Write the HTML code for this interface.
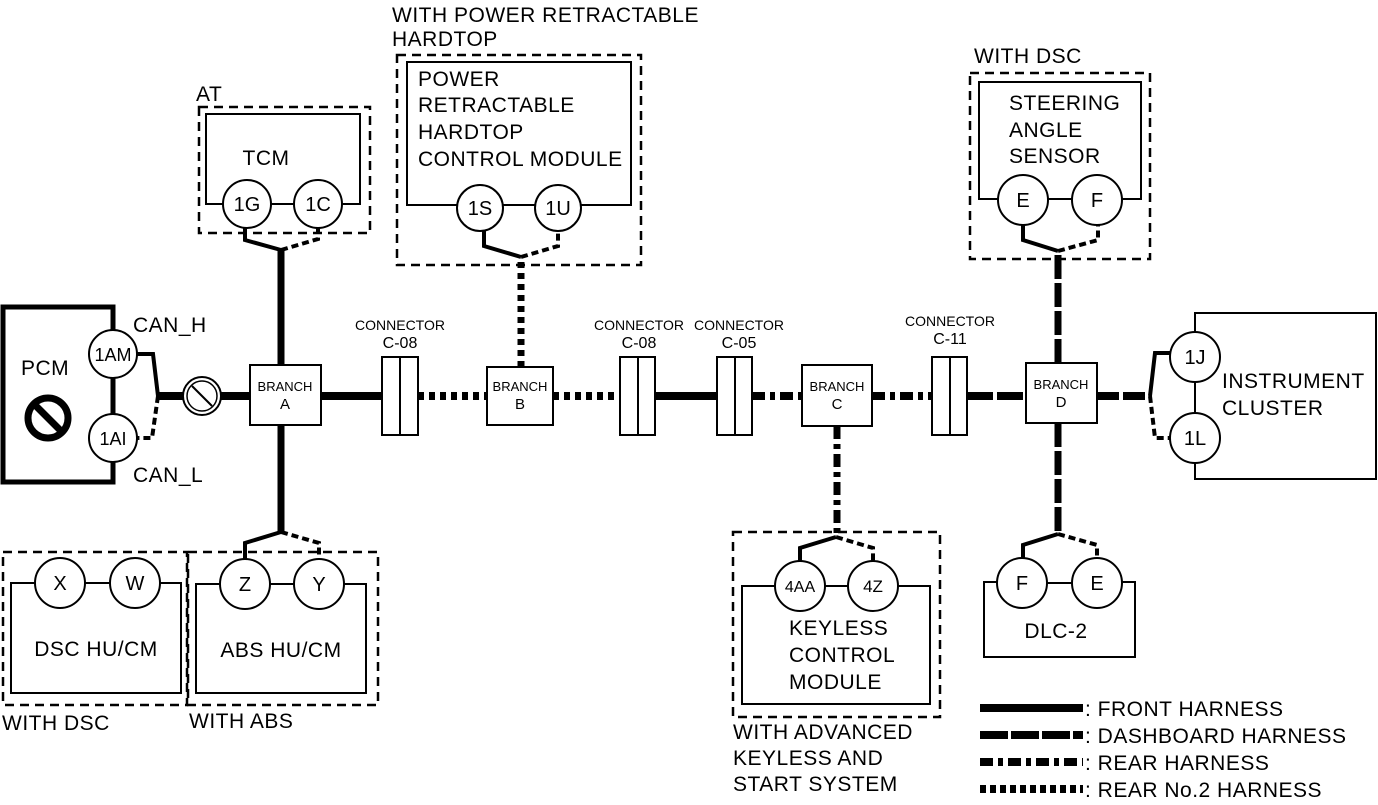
<!DOCTYPE html>
<html><head><meta charset="utf-8"><style>
html,body{margin:0;padding:0;background:#fff}
svg{display:block}
text{font-family:"Liberation Sans",Arial,sans-serif;fill:#000}
</style></head><body>
<svg width="1378" height="805" viewBox="0 0 1378 805" xmlns="http://www.w3.org/2000/svg">
<g fill="none" stroke="#000">
<path d="M113,331 V307 H3 V482 H113 V462" stroke-width="5"/>
<line x1="113" y1="378" x2="113" y2="414" stroke-width="5"/>
<circle cx="113" cy="354" r="24" fill="#fff" stroke-width="2"/>
<circle cx="113" cy="438" r="24" fill="#fff" stroke-width="2"/>
<circle cx="48" cy="418" r="20" stroke-width="7"/>
<line x1="34" y1="404" x2="62" y2="432" stroke-width="7"/>
<path d="M137,354 H153 L158,396" stroke-width="4"/>
<path d="M158,396 L152,438 H137" stroke-width="4" stroke-dasharray="7,4"/>
<line x1="158" y1="396" x2="250" y2="396" stroke-width="8"/>
<circle cx="202" cy="396" r="19" fill="#fff" stroke-width="2"/>
<circle cx="202" cy="396" r="15" fill="#fff" stroke-width="1.5"/>
<line x1="192" y1="386" x2="212" y2="406" stroke-width="2"/>
<line x1="281" y1="250" x2="281" y2="532" stroke-width="7"/>
<line x1="321" y1="396" x2="382" y2="396" stroke-width="8"/>
<line x1="418" y1="396" x2="487" y2="396" stroke-width="8" stroke-dasharray="6,5"/>
<line x1="553" y1="396" x2="620" y2="396" stroke-width="8" stroke-dasharray="6,5"/>
<line x1="655" y1="396" x2="717" y2="396" stroke-width="8"/>
<line x1="752" y1="396" x2="802" y2="396" stroke-width="8" stroke-dasharray="13,5,5,5"/>
<line x1="872" y1="396" x2="932" y2="396" stroke-width="8" stroke-dasharray="13,5,5,5"/>
<line x1="967" y1="396" x2="1026" y2="396" stroke-width="8" stroke-dasharray="26,4"/>
<line x1="1097" y1="396" x2="1150" y2="396" stroke-width="8" stroke-dasharray="22,4"/>
<path d="M1150,396 L1155,353 H1171" stroke-width="4"/>
<path d="M1150,396 L1155,438 H1171" stroke-width="4" stroke-dasharray="7,4"/>
<line x1="521" y1="367" x2="521" y2="257" stroke-width="7" stroke-dasharray="6,5"/>
<line x1="837" y1="426" x2="837" y2="535" stroke-width="7" stroke-dasharray="13,5,5,5"/>
<line x1="1058" y1="363" x2="1058" y2="252" stroke-width="7" stroke-dasharray="24,4"/>
<line x1="1058" y1="423" x2="1058" y2="533" stroke-width="7" stroke-dasharray="24,4"/>
<rect x="250" y="365" width="71" height="60" fill="#fff" stroke-width="2"/>
<rect x="487" y="367" width="66" height="58" fill="#fff" stroke-width="2"/>
<rect x="802" y="365" width="70" height="61" fill="#fff" stroke-width="2"/>
<rect x="1026" y="363" width="71" height="60" fill="#fff" stroke-width="2"/>
<rect x="382" y="357" width="36" height="78" fill="#fff" stroke-width="2"/><line x1="400" y1="357" x2="400" y2="435" stroke-width="2"/>
<rect x="620" y="357" width="35" height="78" fill="#fff" stroke-width="2"/><line x1="638" y1="357" x2="638" y2="435" stroke-width="2"/>
<rect x="717" y="357" width="35" height="78" fill="#fff" stroke-width="2"/><line x1="735" y1="357" x2="735" y2="435" stroke-width="2"/>
<rect x="932" y="357" width="35" height="78" fill="#fff" stroke-width="2"/><line x1="950" y1="357" x2="950" y2="435" stroke-width="2"/>
<rect x="199" y="107" width="171" height="126" stroke-width="2.5" stroke-dasharray="9,6"/>
<path d="M223,204 H206 V114 H360 V204 H342" stroke-width="2"/>
<line x1="271" y1="204" x2="294" y2="204" stroke-width="2"/>
<circle cx="247" cy="204" r="24" fill="#fff" stroke-width="2"/>
<circle cx="318" cy="204" r="24" fill="#fff" stroke-width="2"/>
<path d="M245,228 V240 L281,250" stroke-width="4"/>
<path d="M281,250 L318,239 V228" stroke-width="4" stroke-dasharray="7,4"/>
<rect x="397" y="55" width="244" height="210" stroke-width="2.5" stroke-dasharray="9,6"/>
<path d="M457,205 H407 V62 H631 V205 H581" stroke-width="2"/>
<line x1="503" y1="205" x2="535" y2="205" stroke-width="2"/>
<circle cx="480" cy="208" r="23" fill="#fff" stroke-width="2"/>
<circle cx="558" cy="208" r="23" fill="#fff" stroke-width="2"/>
<path d="M484,231 V246 L521,257" stroke-width="4"/>
<path d="M521,257 L558,246 V231" stroke-width="4" stroke-dasharray="7,4"/>
<rect x="970" y="73" width="180" height="186" stroke-width="2.5" stroke-dasharray="9,6"/>
<path d="M998,199 H979 V82 H1141 V199 H1122" stroke-width="2"/>
<line x1="1048" y1="199" x2="1072" y2="199" stroke-width="2"/>
<circle cx="1023" cy="200" r="25" fill="#fff" stroke-width="2"/>
<circle cx="1097" cy="200" r="25" fill="#fff" stroke-width="2"/>
<path d="M1023,225 V240 L1058,251" stroke-width="4"/>
<path d="M1058,251 L1098,240 V225" stroke-width="4" stroke-dasharray="7,4"/>
<path d="M1195,332 V313 H1376 V479 H1195 V462" stroke-width="2"/>
<line x1="1195" y1="381" x2="1195" y2="414" stroke-width="2"/>
<circle cx="1195" cy="357" r="25" fill="#fff" stroke-width="2"/>
<circle cx="1195" cy="438" r="25" fill="#fff" stroke-width="2"/>
<rect x="3" y="552" width="184" height="153" stroke-width="2.5" stroke-dasharray="9,6"/>
<rect x="188" y="552" width="190" height="153" stroke-width="2.5" stroke-dasharray="9,6"/>
<path d="M35,583 H11 V693 H181 V583 H160" stroke-width="2"/>
<line x1="85" y1="583" x2="110" y2="583" stroke-width="2"/>
<circle cx="60" cy="583" r="25" fill="#fff" stroke-width="2"/>
<circle cx="135" cy="583" r="25" fill="#fff" stroke-width="2"/>
<path d="M220,584 H196 V693 H366 V584 H344" stroke-width="2"/>
<line x1="270" y1="584" x2="294" y2="584" stroke-width="2"/>
<circle cx="245" cy="584" r="25" fill="#fff" stroke-width="2"/>
<circle cx="319" cy="584" r="25" fill="#fff" stroke-width="2"/>
<path d="M245,559 V543 L281,532" stroke-width="4"/>
<path d="M281,532 L319,543 V559" stroke-width="4" stroke-dasharray="7,4"/>
<rect x="733" y="532" width="207" height="185" stroke-width="2.5" stroke-dasharray="9,6"/>
<path d="M775,586 H742 V704 H930 V586 H898" stroke-width="2"/>
<line x1="825" y1="586" x2="848" y2="586" stroke-width="2"/>
<circle cx="800" cy="586" r="25" fill="#fff" stroke-width="2"/>
<circle cx="873" cy="586" r="25" fill="#fff" stroke-width="2"/>
<path d="M800,561 V548 L836,537" stroke-width="4"/>
<path d="M836,537 L873,548 V561" stroke-width="4" stroke-dasharray="7,4"/>
<path d="M997,582 H984 V657 H1135 V582 H1122" stroke-width="2"/>
<line x1="1047" y1="583" x2="1072" y2="583" stroke-width="2"/>
<circle cx="1022" cy="583" r="25" fill="#fff" stroke-width="2"/>
<circle cx="1097" cy="583" r="25" fill="#fff" stroke-width="2"/>
<path d="M1023,558 V545 L1058,534" stroke-width="4"/>
<path d="M1058,534 L1097,545 V558" stroke-width="4" stroke-dasharray="7,4"/>
<line x1="980" y1="708" x2="1083" y2="708" stroke-width="8"/>
<line x1="980" y1="735" x2="1083" y2="735" stroke-width="8" stroke-dasharray="28,3"/>
<line x1="980" y1="762" x2="1083" y2="762" stroke-width="8" stroke-dasharray="13,5,5,5"/>
<line x1="980" y1="789" x2="1083" y2="789" stroke-width="8" stroke-dasharray="6,4"/>
</g>
<g font-size="21" letter-spacing="0.5">
<text x="21" y="375">PCM</text>
<text x="133" y="332">CAN_H</text>
<text x="133" y="482">CAN_L</text>
<text x="196" y="101">AT</text>
<text x="266" y="165" text-anchor="middle">TCM</text>
<text x="392" y="22">WITH POWER RETRACTABLE</text>
<text x="392" y="46">HARDTOP</text>
<text x="418" y="86">POWER</text>
<text x="418" y="112">RETRACTABLE</text>
<text x="418" y="139">HARDTOP</text>
<text x="418" y="166">CONTROL MODULE</text>
<text x="974" y="63">WITH DSC</text>
<text x="1009" y="110">STEERING</text>
<text x="1009" y="137">ANGLE</text>
<text x="1009" y="163">SENSOR</text>
<text x="1222" y="388">INSTRUMENT</text>
<text x="1222" y="415">CLUSTER</text>
<text x="96" y="656" text-anchor="middle">DSC HU/CM</text>
<text x="281" y="657" text-anchor="middle">ABS HU/CM</text>
<text x="2" y="730">WITH DSC</text>
<text x="189" y="728">WITH ABS</text>
<text x="789" y="635">KEYLESS</text>
<text x="789" y="662">CONTROL</text>
<text x="789" y="689">MODULE</text>
<text x="733" y="739">WITH ADVANCED</text>
<text x="733" y="765">KEYLESS AND</text>
<text x="733" y="791">START SYSTEM</text>
<text x="1056" y="638" text-anchor="middle">DLC-2</text>
<text x="1085" y="716">: FRONT HARNESS</text>
<text x="1085" y="743">: DASHBOARD HARNESS</text>
<text x="1085" y="770">: REAR HARNESS</text>
<text x="1085" y="797">: REAR No.2 HARNESS</text>
</g>
<g font-size="20" text-anchor="middle">
<text x="113" y="361" font-size="18">1AM</text>
<text x="113" y="445" font-size="18">1AI</text>
<text x="247" y="211">1G</text>
<text x="318" y="211">1C</text>
<text x="480" y="215">1S</text>
<text x="558" y="215">1U</text>
<text x="1023" y="207">E</text>
<text x="1097" y="207">F</text>
<text x="1195" y="364">1J</text>
<text x="1195" y="445">1L</text>
<text x="60" y="590">X</text>
<text x="135" y="590">W</text>
<text x="245" y="591">Z</text>
<text x="319" y="591">Y</text>
<text x="800" y="592" font-size="16">4AA</text>
<text x="873" y="592" font-size="17">4Z</text>
<text x="1022" y="590">F</text>
<text x="1097" y="590">E</text>
</g>
<g font-size="13" text-anchor="middle">
<text x="285" y="391">BRANCH</text><text x="285" y="409" font-size="15">A</text>
<text x="520" y="391">BRANCH</text><text x="520" y="409" font-size="15">B</text>
<text x="837" y="391">BRANCH</text><text x="837" y="409" font-size="15">C</text>
<text x="1061" y="389">BRANCH</text><text x="1061" y="407" font-size="15">D</text>
<text x="400" y="330" font-size="14">CONNECTOR</text><text x="400" y="348" font-size="16">C-08</text>
<text x="639" y="330" font-size="14">CONNECTOR</text><text x="639" y="348" font-size="16">C-08</text>
<text x="739" y="330" font-size="14">CONNECTOR</text><text x="739" y="348" font-size="16">C-05</text>
<text x="950" y="326" font-size="14">CONNECTOR</text><text x="950" y="344" font-size="16">C-11</text>
</g>
</svg>
</body></html>
